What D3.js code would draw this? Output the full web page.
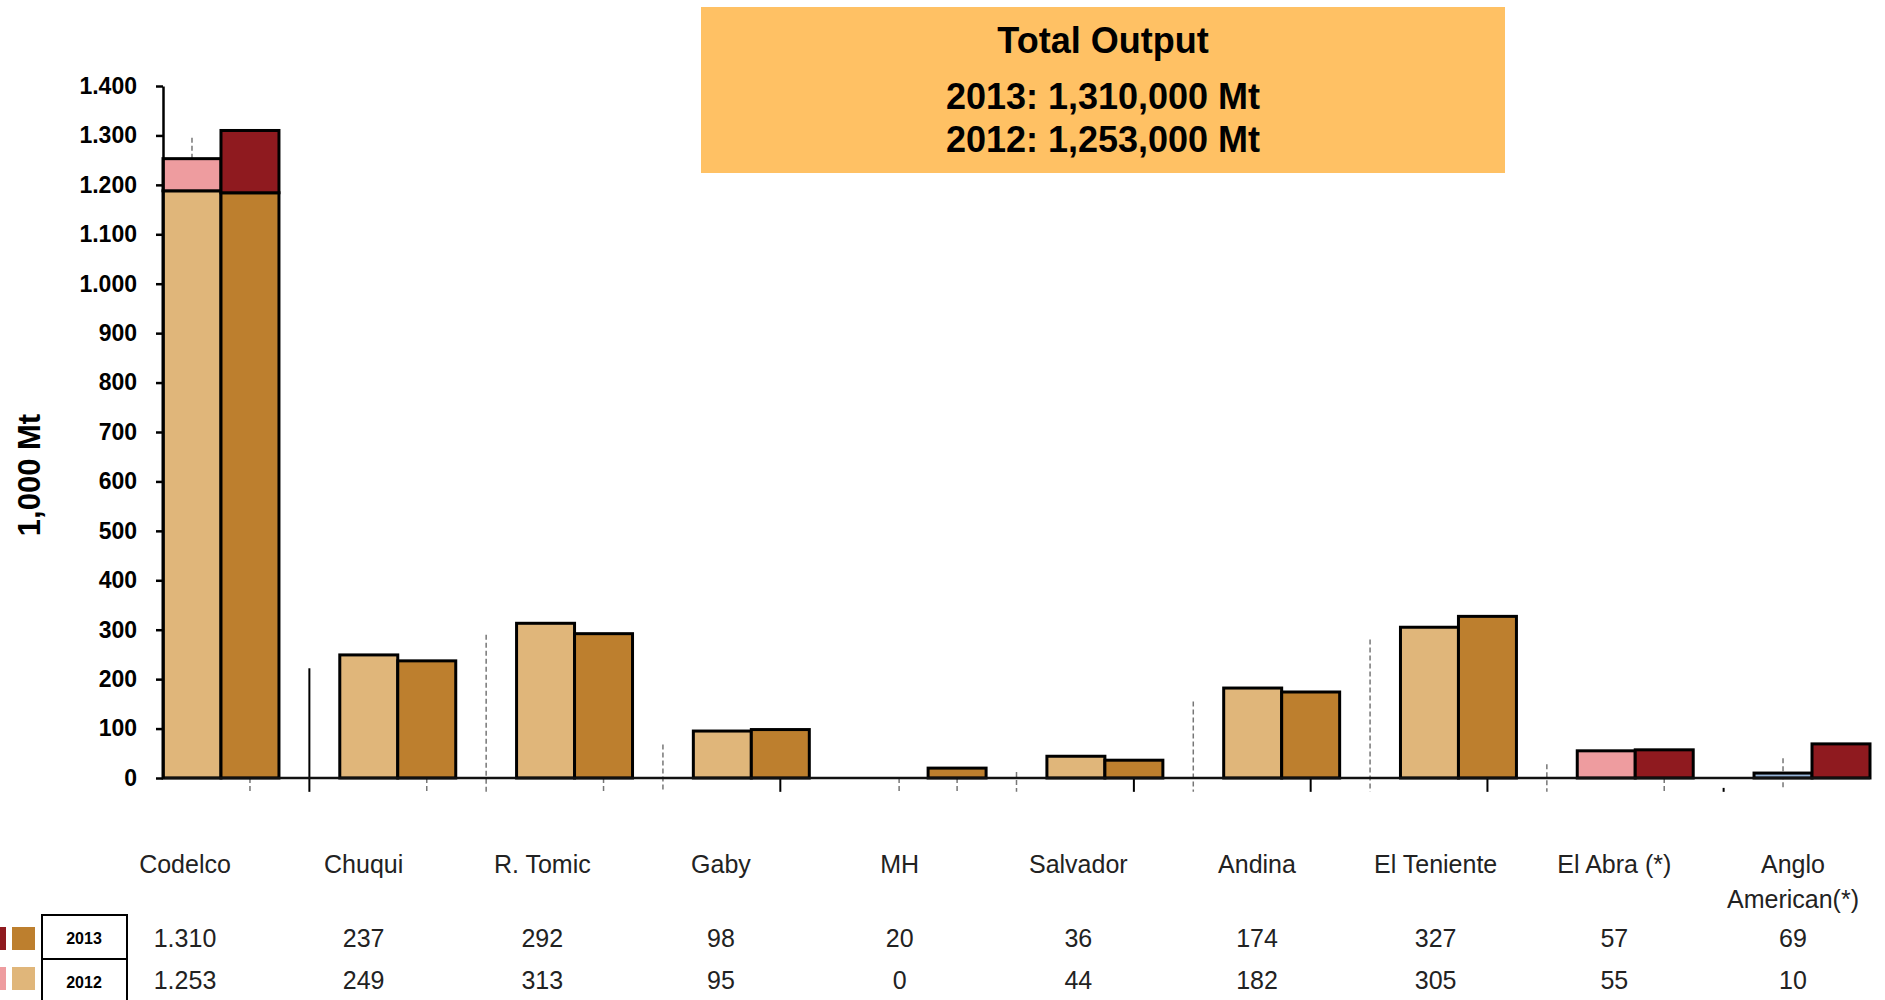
<!DOCTYPE html>
<html>
<head>
<meta charset="utf-8">
<script src="https://cdn.jsdelivr.net/npm/d3@7"></script>
<style>
  body { margin: 0; background: #fff; }
  svg { display: block; }
</style>
</head>
<body>
<div id="chart"></div>
<script>
// ---- data (thousand Mt) ----
const categories = ["Codelco", "Chuqui", "R. Tomic", "Gaby", "MH", "Salvador", "Andina", "El Teniente", "El Abra (*)", "Anglo American(*)"];
const labelLines = [["Codelco"], ["Chuqui"], ["R. Tomic"], ["Gaby"], ["MH"], ["Salvador"], ["Andina"], ["El Teniente"], ["El Abra (*)"], ["Anglo", "American(*)"]];
const output2013 = [1310, 237, 292, 98, 20, 36, 174, 327, 57, 69];
const output2012 = [1253, 249, 313, 95, 0, 44, 182, 305, 55, 10];
// kind of each column: total (stacked), own division, partner share
const kinds = ["total", "division", "division", "division", "division", "division", "division", "division", "partner", "partner"];
// Codelco column is stacked: divisions + partner shares
const codelcoSplit2013 = [1184, 126];
const codelcoSplit2012 = [1188, 65];
const years = ["2012", "2013"];
const tableYears = ["2013", "2012"];
const yTicks = [0, 100, 200, 300, 400, 500, 600, 700, 800, 900, 1000, 1100, 1200, 1300, 1400];

// stray guide lines that show in the original slide (values in 1,000 Mt)
const guides = [
  { cat: "Codelco", at: "2012", from: 1253, to: 1300, dash: true },
  { cat: "Codelco", at: "2013", from: 0, to: -28, dash: true },
  { cat: "Chuqui", at: "sep", from: 222, to: -28, dash: false },
  { cat: "Chuqui", at: "2013", from: 0, to: -28, dash: true },
  { cat: "R. Tomic", at: "sep", from: 290, to: -28, dash: true },
  { cat: "R. Tomic", at: "2013", from: 0, to: -28, dash: true },
  { cat: "Gaby", at: "sep", from: 68, to: -28, dash: true },
  { cat: "Gaby", at: "2013", from: 0, to: -28, dash: false },
  { cat: "MH", at: "2012", from: 0, to: -28, dash: true },
  { cat: "MH", at: "2013", from: 0, to: -28, dash: true },
  { cat: "Salvador", at: "sep", from: 12, to: -28, dash: true },
  { cat: "Salvador", at: "2013", from: 0, to: -28, dash: false },
  { cat: "Andina", at: "sep", from: 155, to: -28, dash: true },
  { cat: "Andina", at: "2013", from: 0, to: -28, dash: false },
  { cat: "El Teniente", at: "sep", from: 280, to: -28, dash: true },
  { cat: "El Teniente", at: "2013", from: 0, to: -28, dash: false },
  { cat: "El Abra (*)", at: "sep", from: 28, to: -28, dash: true },
  { cat: "El Abra (*)", at: "2013", from: 0, to: -28, dash: true },
  { cat: "Anglo American(*)", at: "sep", from: -20, to: -28, dash: false },
  { cat: "Anglo American(*)", at: "2012", from: 40, to: -20, dash: true }
];

const colors = {
  division2013: "#BD7F2E",
  division2012: "#E0B67A",
  partner2013: "#8F1A1F",
  partner2012: "#EE9C9F",
  anglo2012: "#95B3D7",
  box: "#FFC164"
};

const W = 1885, H = 1000;
const fmtDot = d3.formatLocale({ decimal: ",", thousands: ".", grouping: [3], currency: ["", ""] }).format(",");
const fmtComma = d3.format(",");

var svg = d3.select("#chart").append("svg")
  .attr("width", W)
  .attr("height", H);

var x = d3.scaleBand()
  .domain(categories)
  .range([163, 1870])
  .paddingInner(0.344)
  .paddingOuter(0);

var xYear = d3.scaleBand()
  .domain(years)
  .range([0, x.bandwidth()]);

var y = d3.scaleLinear()
  .domain([0, 1400])
  .range([778, 86]);

var tableX = d3.scalePoint()
  .domain(categories)
  .range([185, 1793]);

// ---- bar segments ----
var segments = [];
categories.forEach(function (c, i) {
  if (kinds[i] === "total") {
    segments.push({ cat: c, year: "2012", lo: 0, hi: codelcoSplit2012[0], fill: colors.division2012 });
    segments.push({ cat: c, year: "2012", lo: codelcoSplit2012[0], hi: codelcoSplit2012[0] + codelcoSplit2012[1], fill: colors.partner2012 });
    segments.push({ cat: c, year: "2013", lo: 0, hi: codelcoSplit2013[0], fill: colors.division2013 });
    segments.push({ cat: c, year: "2013", lo: codelcoSplit2013[0], hi: codelcoSplit2013[0] + codelcoSplit2013[1], fill: colors.partner2013 });
  } else {
    var f12 = kinds[i] === "partner" ? colors.partner2012 : colors.division2012;
    var f13 = kinds[i] === "partner" ? colors.partner2013 : colors.division2013;
    if (c === "Anglo American(*)") f12 = colors.anglo2012;
    if (output2012[i] > 0) segments.push({ cat: c, year: "2012", lo: 0, hi: output2012[i], fill: f12 });
    if (output2013[i] > 0) segments.push({ cat: c, year: "2013", lo: 0, hi: output2013[i], fill: f13 });
  }
});

// guide lines behind the bars
var gap = x.step() - x.bandwidth();
function guideX(d) {
  if (d.at === "sep") return x(d.cat) - gap / 2;
  return x(d.cat) + xYear(d.at) + xYear.bandwidth() / 2;
}

svg.append("g")
  .attr("class", "guides")
  .selectAll("line")
  .data(guides)
  .enter()
  .append("line")
  .attr("x1", guideX)
  .attr("x2", guideX)
  .attr("y1", function (d) { return y(d.from); })
  .attr("y2", function (d) { return y(d.to); })
  .attr("stroke", function (d) { return d.dash ? "#777" : "#000"; })
  .attr("stroke-width", function (d) { return d.dash ? 1.5 : 2; })
  .attr("stroke-dasharray", function (d) { return d.dash ? "5,3" : null; });

svg.append("g")
  .selectAll("rect")
  .data(segments)
  .enter()
  .append("rect")
  .attr("class", "bar")
  .attr("x", function (d) { return x(d.cat) + xYear(d.year); })
  .attr("width", xYear.bandwidth())
  .attr("y", function (d) { return y(d.hi); })
  .attr("height", function (d) { return y(d.lo) - y(d.hi); })
  .attr("fill", function (d) { return d.fill; })
  .attr("stroke", "#000")
  .attr("stroke-width", 3);

// x baseline
svg.append("line")
  .attr("x1", x.range()[0])
  .attr("x2", x.range()[1])
  .attr("y1", y(0))
  .attr("y2", y(0))
  .attr("stroke", "#111")
  .attr("stroke-width", 2.5);

// y axis
var yAxis = d3.axisLeft(y)
  .tickValues(yTicks)
  .tickFormat(fmtDot)
  .tickSize(7)
  .tickSizeOuter(0)
  .tickPadding(19);

svg.append("g")
  .attr("class", "y-axis")
  .attr("transform", "translate(163,0)")
  .call(yAxis)
  .call(function (g) { g.select(".domain").attr("stroke", "#000").attr("stroke-width", 2.5); })
  .call(function (g) { g.selectAll(".tick line").attr("stroke", "#000").attr("stroke-width", 2.5); })
  .call(function (g) {
    g.selectAll(".tick text")
      .attr("fill", "#000")
      .style("font-family", "'Liberation Sans', Arial, sans-serif")
      .style("font-weight", "bold")
      .style("font-size", "23px");
  });

svg.append("text")
  .attr("transform", "translate(40,475) rotate(-90)")
  .style("text-anchor", "middle")
  .style("font-family", "'Liberation Sans', Arial, sans-serif")
  .style("font-weight", "bold")
  .style("font-size", "31px")
  .text("1,000 Mt");

// ---- title box ----
var box = svg.append("g").attr("class", "total-box");
box.append("rect")
  .attr("x", 701)
  .attr("y", 7)
  .attr("width", 804)
  .attr("height", 166)
  .attr("fill", colors.box);

var boxLines = [
  "Total Output",
  "2013: " + fmtComma(output2013[0] * 1000) + " Mt",
  "2012: " + fmtComma(output2012[0] * 1000) + " Mt"
];
box.selectAll("text")
  .data(boxLines)
  .enter()
  .append("text")
  .attr("x", 1103)
  .attr("y", function (d, i) { return [53, 109, 152][i]; })
  .style("text-anchor", "middle")
  .style("font-family", "'Liberation Sans', Arial, sans-serif")
  .style("font-weight", "bold")
  .style("font-size", "36px")
  .text(function (d) { return d; });

// ---- category labels ----
var labelFont = "'Liberation Sans', Arial, sans-serif";
var labels = svg.append("g").attr("class", "cat-labels")
  .selectAll("text")
  .data(categories)
  .enter()
  .append("text")
  .attr("x", function (d) { return tableX(d); })
  .attr("y", 873)
  .style("text-anchor", "middle")
  .style("font-family", labelFont)
  .style("font-size", "25px")
  .attr("fill", "#222");

labels.each(function (d, i) {
  var t = d3.select(this);
  labelLines[i].forEach(function (line, k) {
    t.append("tspan")
      .attr("x", tableX(d))
      .attr("dy", k === 0 ? 0 : 35)
      .text(line);
  });
});

// ---- data table ----
var rowY = { "2013": 947, "2012": 989 };
var rowValues = { "2013": output2013, "2012": output2012 };

tableYears.forEach(function (yr) {
  svg.append("g")
    .selectAll("text")
    .data(categories)
    .enter()
    .append("text")
    .attr("x", function (d) { return tableX(d); })
    .attr("y", rowY[yr])
    .style("text-anchor", "middle")
    .style("font-family", labelFont)
    .style("font-size", "25px")
    .attr("fill", "#222")
    .text(function (d, i) { return fmtDot(rowValues[yr][i]); });
});

// legend cells of the table
var legendRows = [
  { year: "2013", top: 915, bottom: 959, a: colors.partner2013, b: colors.division2013, sy: 927 },
  { year: "2012", top: 959, bottom: 1005, a: colors.partner2012, b: colors.division2012, sy: 967 }
];

var lg = svg.append("g").attr("class", "legend");
legendRows.forEach(function (r) {
  lg.append("rect")
    .attr("x", -10).attr("y", r.sy)
    .attr("width", 16).attr("height", 23)
    .attr("fill", r.a);
  lg.append("rect")
    .attr("x", 12).attr("y", r.sy)
    .attr("width", 23).attr("height", 23)
    .attr("fill", r.b);
  lg.append("rect")
    .attr("x", 42).attr("y", r.top)
    .attr("width", 85).attr("height", r.bottom - r.top)
    .attr("fill", "#fff")
    .attr("stroke", "#000")
    .attr("stroke-width", 2);
  lg.append("text")
    .attr("x", 84)
    .attr("y", r.top + 29)
    .style("text-anchor", "middle")
    .style("font-family", "'Liberation Sans', Arial, sans-serif")
    .style("font-weight", "bold")
    .style("font-size", "16px")
    .text(r.year);
});
</script>
</body>
</html>
